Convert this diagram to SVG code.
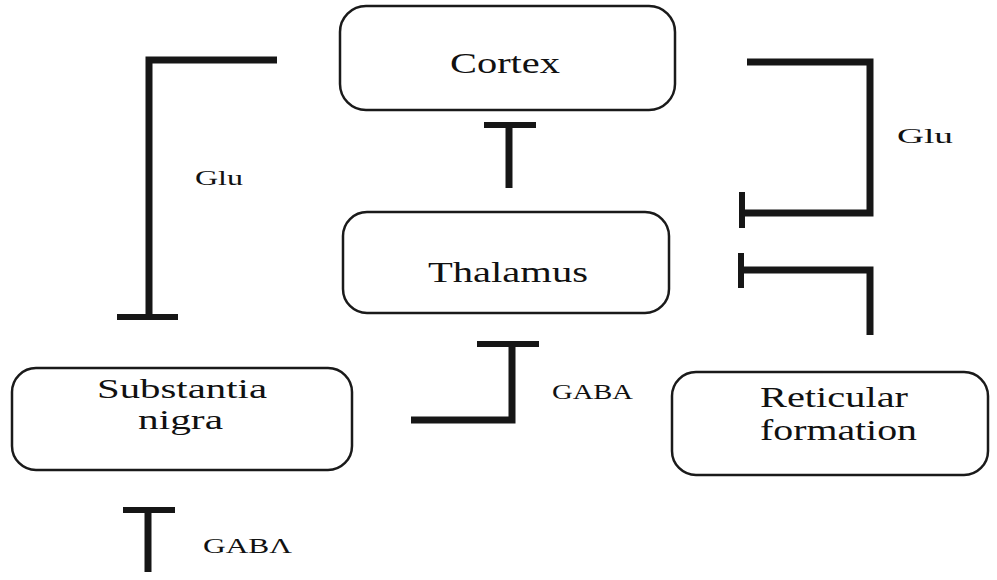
<svg xmlns="http://www.w3.org/2000/svg" width="997" height="580" viewBox="0 0 997 580">
<style>
.box{fill:#fff;stroke:#1a1a1a;stroke-width:2.5}
.lbl{font-family:"Liberation Serif","Times New Roman",serif;font-size:30px;fill:#111}
.sm{font-size:28px}
.nt{font-family:"Liberation Serif","Times New Roman",serif;font-size:22px;fill:#111}
.c{fill:none;stroke:#161616;stroke-width:7;stroke-linejoin:miter;stroke-linecap:butt}
.bar{fill:none;stroke:#161616;stroke-width:6;stroke-linecap:butt}
</style>
<rect width="997" height="580" fill="#fff"/>
<g id="cortex">
<rect class="box" x="340" y="6" width="335" height="104" rx="26"/>
<text class="lbl" x="450" y="73" textLength="110" lengthAdjust="spacingAndGlyphs">Cortex</text>
</g>
<g id="thalamus">
<rect class="box" x="343" y="212" width="326" height="101" rx="24"/>
<text class="lbl" x="428" y="282" textLength="160" lengthAdjust="spacingAndGlyphs">Thalamus</text>
</g>
<g id="substantia-nigra">
<rect class="box" x="12" y="368" width="340" height="102" rx="24"/>
<text class="lbl sm" x="97" y="398" textLength="170" lengthAdjust="spacingAndGlyphs">Substantia</text>
<text class="lbl sm" x="138" y="429" textLength="85" lengthAdjust="spacingAndGlyphs">nigra</text>
</g>
<g id="reticular-formation">
<rect class="box" x="672" y="372" width="316" height="103" rx="24"/>
<text class="lbl" x="760" y="407" textLength="148" lengthAdjust="spacingAndGlyphs">Reticular</text>
<text class="lbl" x="760" y="440" textLength="157" lengthAdjust="spacingAndGlyphs">formation</text>
</g>
<g id="connectors">
<path class="c" d="M277,60 H149 V317"/>
<path class="bar" d="M117,317 H178"/>
<path class="c" d="M509,125 V188"/>
<path class="bar" d="M484,125 H536"/>
<path class="c" d="M747,62 H870 V213 H742"/>
<path class="bar" d="M742,192 V228"/>
<path class="c" d="M870,335 V270 H742"/>
<path class="bar" d="M741,253 V288"/>
<path class="c" d="M411,420 H512 V344"/>
<path class="bar" d="M477,344 H539"/>
<path class="c" d="M148,572 V510"/>
<path class="bar" d="M123,510 H175"/>
<text class="nt" x="195" y="185" textLength="48" lengthAdjust="spacingAndGlyphs">Glu</text>
<text class="nt" x="897" y="143" textLength="56" lengthAdjust="spacingAndGlyphs">Glu</text>
<text class="nt" x="552" y="399" textLength="81" lengthAdjust="spacingAndGlyphs">GABA</text>
<text class="nt" x="203" y="553" textLength="89" lengthAdjust="spacingAndGlyphs">GABΛ</text>
</g>
</svg>
